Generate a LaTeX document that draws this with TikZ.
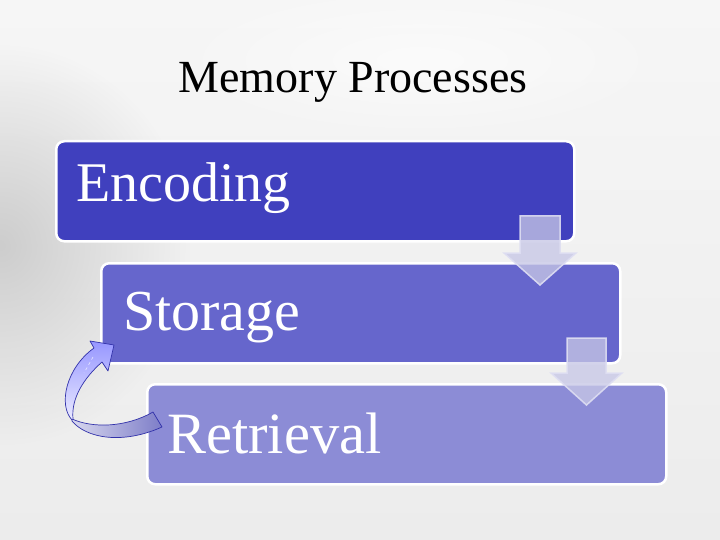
\documentclass[tikz,border=0pt]{standalone}
\usepackage{fontspec}
\setmainfont{Liberation Serif}
\usetikzlibrary{fadings}
\tikzfading[name=softout, inner color=transparent!0, outer color=transparent!100]
\definecolor{bgtop}{RGB}{246,246,246}
\definecolor{bgc}{RGB}{236,236,236}
\definecolor{bgdark}{RGB}{205,205,205}
\definecolor{encc}{RGB}{64,64,190}
\definecolor{stoc}{RGB}{102,102,204}
\definecolor{retc}{RGB}{140,140,214}
\definecolor{arrfill}{RGB}{199,199,230}
\definecolor{arredge}{RGB}{222,222,242}
\definecolor{curvedge}{RGB}{50,50,170}
\definecolor{curvtop}{RGB}{150,150,255}
\definecolor{curvbot}{RGB}{235,235,255}
\definecolor{curvleft}{RGB}{215,215,238}
\definecolor{curvright}{RGB}{125,125,200}
\begin{document}
\begin{tikzpicture}[x=1pt,y=-1pt,
  stagebox/.style={draw=white, line width=2.5pt, rounded corners=8pt,
    minimum height=100pt, inner sep=0pt, anchor=north west},
  stagetext/.style={text=white, inner sep=0pt, anchor=base west},
  downarrow/.style={fill=arrfill, fill opacity=0.77, draw=arredge, draw opacity=0.9,
    line width=1.5pt, line join=miter},
  curvline/.style={draw=curvedge, line width=0.7pt, line join=round}]
\useasboundingbox (0,0) rectangle (720,540);
% background
\shade[top color=bgtop, bottom color=bgc] (0,0) rectangle (720,540);
\fill[bgdark, path fading=softout] (0,245) ellipse (190pt and 200pt);
\fill[white, path fading=softout, opacity=0.6] (420,60) ellipse (260pt and 80pt);
% title
\node[font=\fontsize{46}{50}\selectfont, anchor=base, inner sep=0pt] (title) at (353,93) {Memory Processes};
% stage boxes
\node[stagebox, fill=encc, minimum width=518pt] (enc) at (55,140) {};
\node[stagebox, fill=stoc, minimum width=519pt] (sto) at (100,262) {};
\node[stagebox, fill=retc, minimum width=519pt] (ret) at (146,383) {};
\node[stagetext, font=\fontsize{56}{60}\selectfont] (enct) at (76,202) {Encoding};
\node[stagetext, font=\fontsize{58}{62}\selectfont] (stot) at (123,330) {Storage};
\node[stagetext, font=\fontsize{58.5}{62}\selectfont] (rett) at (167,453) {Retrieval};
% down arrows
\coordinate (a1) at (540,285);
\coordinate (a2) at (586.5,405);
\draw[downarrow] (520,216) -- (560,216) -- (560,253) -- (576,253) -- (a1) -- (504,253) -- (520,253) -- cycle;
\draw[downarrow] (567,338) -- (606,338) -- (606,373) -- (622,373) -- (a2) -- (551,373) -- (567,373) -- cycle;
% curved arrow from Retrieval back to Storage
\coordinate (ctail) at (157,419);
\coordinate (chead) at (114,345);
\shade[left color=curvleft, right color=curvright, curvline]
  (153,412) .. controls (125,428) and (92,428) .. (72,419)
  -- (72,421) .. controls (86,438) and (122,445) .. (162,427) -- cycle;
\shade[top color=curvtop, bottom color=curvbot, curvline]
  (72,420) .. controls (58,405) and (66,368) .. (94,348)
  -- (90,341) -- (chead) -- (108,371) -- (102,362)
  .. controls (84,378) and (71,398) .. (73,419) -- cycle;
\draw[white, line width=0.6pt, dashed, opacity=0.7] (93,357) -- (84,373);
\end{tikzpicture}
\end{document}
